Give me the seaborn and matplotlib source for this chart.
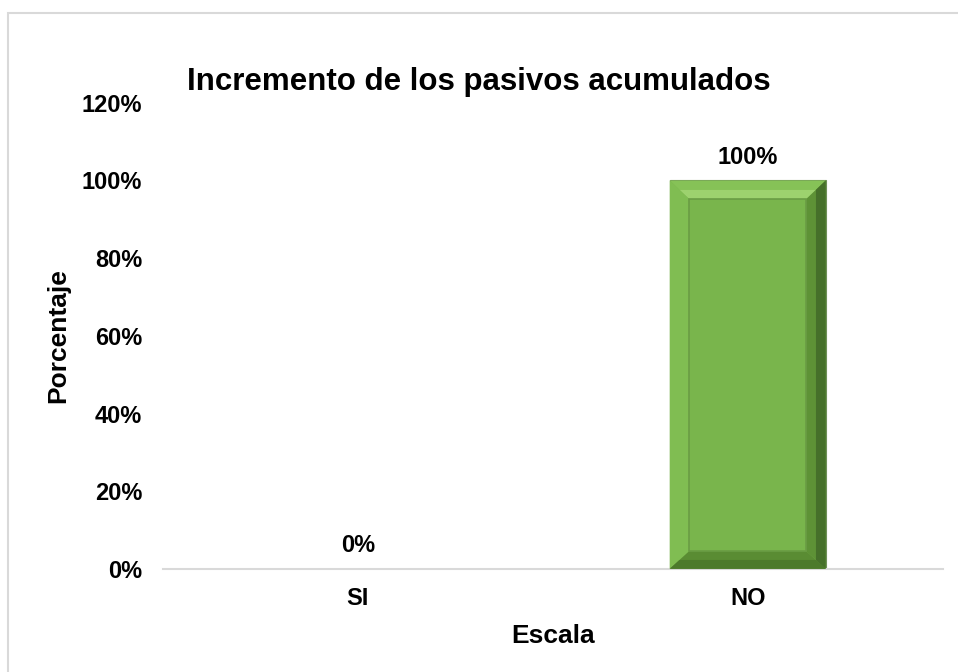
"""Bar chart: Incremento de los pasivos acumulados."""

import matplotlib.patches as mpatches
import matplotlib.pyplot as plt
import pandas as pd
import seaborn as sns

# Data
categories = ["SI", "NO"]
percentages = [0, 100]
y_ticks = [0, 20, 40, 60, 80, 100, 120]

BAR_COLOR = "#79B54C"

sns.set_theme(style="white")
plt.rcParams["font.family"] = ["Liberation Sans", "DejaVu Sans"]
plt.rcParams["text.color"] = "black"
plt.rcParams["axes.labelcolor"] = "black"
plt.rcParams["xtick.color"] = "black"
plt.rcParams["ytick.color"] = "black"

df = pd.DataFrame({"Escala": categories, "Porcentaje": percentages})

fig = plt.figure(figsize=(9.58, 6.72), dpi=100)
ax = fig.add_axes([0.170, 0.1535, 0.814, 0.6935])

sns.barplot(
    data=df,
    x="Escala",
    y="Porcentaje",
    color=BAR_COLOR,
    saturation=1,
    width=0.4,
    ax=ax,
)


def _poly(pts, color, z=3):
    ax.add_patch(mpatches.Polygon(pts, closed=True, facecolor=color,
                                  edgecolor="none", zorder=z))


# Bevel effect on each bar, computed from the bar geometry
for patch in list(ax.patches):
    x0, y0 = patch.get_x(), patch.get_y()
    w, h = patch.get_width(), patch.get_height()
    if h <= 0:
        continue
    patch.set_edgecolor("#6E8F58")
    patch.set_linewidth(0.8)
    bx = w * 0.125
    by = 4.8
    x1, y1 = x0 + w, y0 + h
    ix0, ix1 = x0 + bx, x1 - bx
    iy0, iy1 = y0 + by * 0.95, y1 - by
    # top bevel: two bands for a soft highlight
    ym = (y1 + iy1) / 2
    xm0, xm1 = (x0 + ix0) / 2, (x1 + ix1) / 2
    _poly([(x0, y1), (x1, y1), (xm1, ym), (xm0, ym)], "#86C257")
    _poly([(xm0, ym), (xm1, ym), (ix1, iy1), (ix0, iy1)], "#9DD26E")
    # left bevel
    _poly([(x0, y0), (x0, y1), (ix0, iy1), (ix0, iy0)], "#80BD52")
    # right bevel: darker toward the edge
    _poly([(x1, y0), (x1, y1), (ix1, iy1), (ix1, iy0)], "#5E9236")
    _poly([(x1, y0), (x1, y1), (xm1, ym), (xm1, (y0 + iy0) / 2)], "#46702A", 3.5)
    # bottom bevel
    _poly([(x0, y0), (x1, y0), (ix1, iy0), (ix0, iy0)], "#5A8C33")
    _poly([(x0, y0), (x1, y0), (xm1, (y0 + iy0) / 2), (xm0, (y0 + iy0) / 2)],
          "#4C7A2B", 3.4)
    # inner face
    ax.add_patch(mpatches.Rectangle(
        (ix0, iy0), ix1 - ix0, iy1 - iy0,
        facecolor=BAR_COLOR, edgecolor="#6A9C44", linewidth=1.2, zorder=4))

# Value labels
for i, v in enumerate(percentages):
    ax.text(i, v + 6, f"{v}%", ha="center", va="center",
            fontsize=17, fontweight="bold", color="black")

ax.set_ylim(0, 120)
ax.set_yticks(y_ticks)
ax.set_yticklabels([f"{t}%" for t in y_ticks], fontsize=17, fontweight="bold")
ax.set_xticks(range(len(categories)))
ax.set_xticklabels(categories, fontsize=17, fontweight="bold")
ax.tick_params(axis="x", length=0, pad=13)
ax.tick_params(axis="y", length=0, pad=15)

ax.set_xlabel("Escala", fontsize=19, fontweight="bold", labelpad=10)
ax.set_ylabel("Porcentaje", fontsize=19, fontweight="bold", labelpad=8)
# title is centred on the whole chart, not on the plot area
ax.set_title("Incremento de los pasivos acumulados", fontsize=22.5,
             fontweight="bold", pad=9, x=(0.5 - 0.170) / 0.814)

for side in ["top", "right", "left"]:
    ax.spines[side].set_visible(False)
ax.spines["bottom"].set_color("#D9D9D9")
ax.spines["bottom"].set_linewidth(1.5)

# Outer chart frame
fig.patches.append(mpatches.Rectangle(
    (8 / 958, -0.1), 1.1, 1 - 13 / 672 + 0.1,
    transform=fig.transFigure, fill=False,
    edgecolor="#D9D9D9", linewidth=1.5))

fig.savefig("out.png", dpi=100)
